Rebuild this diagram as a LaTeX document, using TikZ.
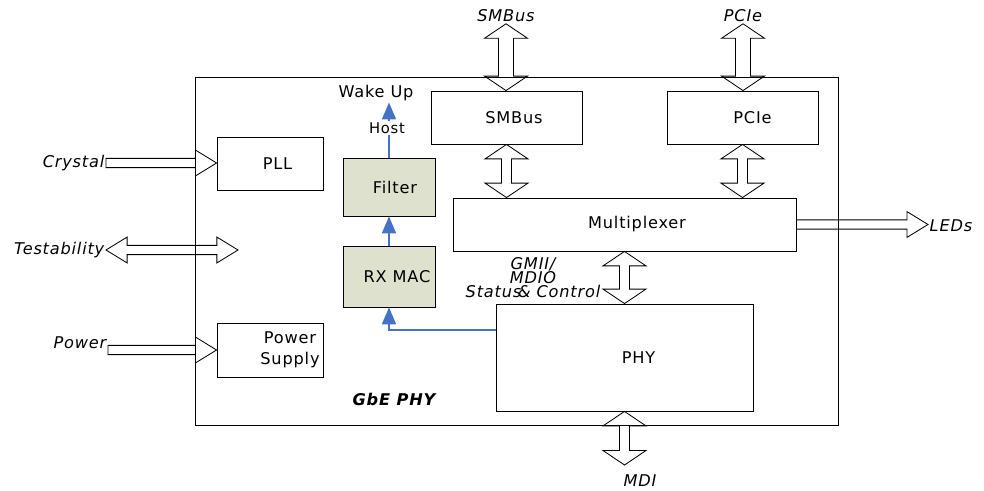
\documentclass[tikz,border=0pt]{standalone}
\usepackage{fontspec}
\setmainfont{DejaVu Sans}[LetterSpace=5]
\usetikzlibrary{calc,arrows.meta}
\definecolor{filtgreen}{RGB}{221,225,205}
\definecolor{sigblue}{RGB}{68,114,196}
\newcommand{\dfont}{\fontsize{11.5}{15}\selectfont}
\tikzset{
	blk/.style={draw, rectangle, line width=0.6pt, inner sep=0pt},
	dsp/.style={blk, fill=filtgreen},
	port/.style={font=\dfont\itshape, inner sep=1pt},
	bus/.style={draw, line width=0.6pt, line join=miter},
	sig/.style={draw=sigblue, line width=1pt, -{Triangle[width=10pt,length=12pt]}, color=sigblue},
}
\newcommand{\hbusr}[2]{%
	\draw[bus] let \p1=#1, \p2=#2 in (\x1,\y1+3.3pt) -- (\x2-15pt,\y1+3.3pt) -- (\x2-15pt,\y1+9.2pt) -- (\x2,\y1) -- (\x2-15pt,\y1-9.2pt) -- (\x2-15pt,\y1-3.3pt) -- (\x1,\y1-3.3pt) -- cycle;}
\newcommand{\hbusd}[2]{%
	\draw[bus] let \p1=#1, \p2=#2 in (\x1,\y1) -- (\x1+15pt,\y1+9.2pt) -- (\x1+15pt,\y1+3.3pt) -- (\x2-15pt,\y1+3.3pt) -- (\x2-15pt,\y1+9.2pt) -- (\x2,\y1) -- (\x2-15pt,\y1-9.2pt) -- (\x2-15pt,\y1-3.3pt) -- (\x1+15pt,\y1-3.3pt) -- (\x1+15pt,\y1-9.2pt) -- cycle;}
\newcommand{\vbusd}[3][3.6pt]{%
	\draw[bus] let \p1=#2, \p2=#3 in (\x1,\y1) -- (\x1+15.3pt,\y1-10.3pt) -- (\x1+#1,\y1-10.3pt) -- (\x1+#1,\y2+10.3pt) -- (\x1+15.3pt,\y2+10.3pt) -- (\x1,\y2) -- (\x1-15.3pt,\y2+10.3pt) -- (\x1-#1,\y2+10.3pt) -- (\x1-#1,\y1-10.3pt) -- (\x1-15.3pt,\y1-10.3pt) -- cycle;}
\begin{document}
\begin{tikzpicture}[x=0.025cm, y=-0.025cm, font=\dfont]
				\useasboundingbox (0,0) rectangle (984,491);
				\node[blk, minimum width=16.05cm, minimum height=8.7cm] (gbe)at(517, 251) {};
				\node[font=\dfont\bfseries\itshape] (gbelbl)at(394, 399) {GbE PHY};
				\node[blk, minimum width=2.65cm, minimum height=1.325cm] (pll)at(270, 163.5) {\hspace{0.375cm}PLL};
				\node[blk, minimum width=2.65cm, minimum height=1.35cm, label={[align=center, xshift=0.5cm]center:Power\\Supply}] (pwr)at(270, 350) {};
				\node[dsp, minimum width=2.3cm, minimum height=1.45cm] (filt)at(389, 187) {\hspace{0.3cm}Filter};
				\node[dsp, minimum width=2.3cm, minimum height=1.525cm] (rxmac)at(389, 276.5) {\hspace{0.4cm}RX MAC};
				\node[blk, minimum width=3.775cm, minimum height=1.325cm] (smb)at(506.5, 117.5) {\hspace{0.375cm}SMBus};
				\node[blk, minimum width=3.775cm, minimum height=1.325cm] (pcie)at(742.5, 117.5) {\hspace{0.5cm}PCIe};
				\node[blk, minimum width=8.575cm, minimum height=1.325cm] (mux)at(624.5, 224.5) {\hspace{0.625cm}Multiplexer};
				\node[blk, minimum width=6.425cm, minimum height=2.675cm] (phy)at(624.5, 357.5) {\hspace{0.7cm}PHY};
				\node[port, anchor=east] (crystal)at(106, 163) {Crystal};
				\node[port, anchor=east] (test)at(106, 250) {Testability};
				\node[port, anchor=east] (power)at(108, 343) {Power};
				\node[port, anchor=west] (leds)at(928, 226) {LEDs};
				\node[port] (smbport)at(506, 16) {SMBus};
				\node[port] (pcieport)at(743, 16) {PCIe};
				\node[port] (mdi)at(640, 481) {MDI};
				\node[port, align=center, font=\itshape\fontsize{11.5}{10}\selectfont] (gmii)at(533, 278) {GMII/\\MDIO\\Status\hspace{-0.2em}\& Control};
				\node[inner sep=1pt] (wake)at(376, 93) {Wake Up};
				\coordinate (testin)at(238, 250);
				\coordinate (mdiend)at(624.5, 465);
				\coordinate (phytap)at(496, 330);
				\hbusr{(crystal.east)}{(pll.west)}
				\hbusd{(test.east)}{(testin)}
				\hbusr{(power.east |- pwr.west)}{(pwr.west)}
				\hbusr{(mux.east)}{(leds.west)}
				\vbusd[5.3pt]{(smbport.south)}{(smb.north)}
				\vbusd[5.3pt]{(pcieport.south)}{(pcie.north)}
				\vbusd{(smb.south)}{(smb.south |- mux.north)}
				\vbusd{(pcie.south)}{(pcie.south |- mux.north)}
				\vbusd{(mux.south)}{(phy.north)}
				\vbusd{(phy.south)}{(mdiend)}
				\draw[sig] (filt.north) -- (filt.north |- wake.south);
				\draw[sig] (rxmac.north) -- (filt.south);
				\draw[sig] (phytap) -| (rxmac.south);
				\node[fill=white, inner sep=1pt, font=\fontsize{10.5}{12}\selectfont] (host)at(387, 128) {Host};
			\end{tikzpicture}
\end{document}
